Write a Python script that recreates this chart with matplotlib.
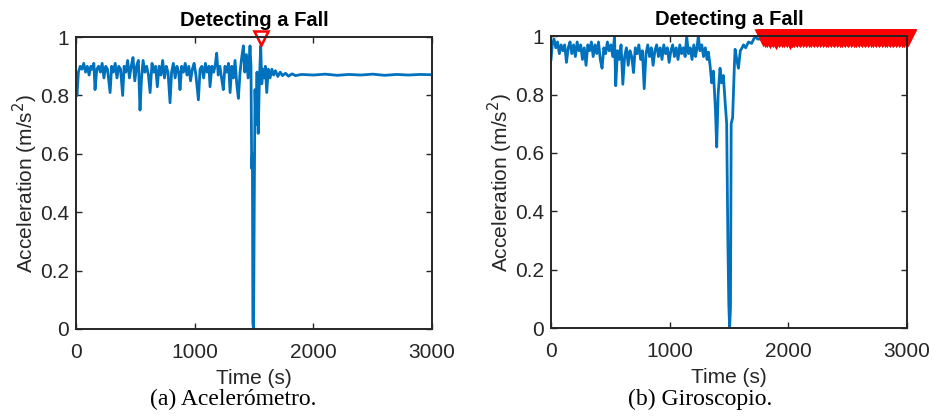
# Fall detection: accelerometer vs gyroscope magnitude with detected peaks
import numpy as np
import matplotlib
matplotlib.use('Agg')
import matplotlib.pyplot as plt

# Accelerometer signal (time in s, normalised magnitude)
acc_t = [0, 8, 20, 35, 50, 65, 80, 95, 110, 125, 135, 150, 160, 175, 190, 205, 220,
         235, 250, 265, 287, 300, 315, 330, 345, 360, 375, 393, 405, 420, 435, 450,
         465, 480, 495, 510, 525, 539, 552, 565, 580, 595, 610, 624, 640, 655, 670,
         685, 700, 715, 730, 745, 760, 775, 792, 805, 820, 835, 850, 865, 876, 890,
         905, 920, 935, 950, 965, 980, 995, 1010, 1031, 1045, 1060, 1075, 1090, 1105,
         1120, 1129, 1145, 1160, 1175, 1185, 1198, 1212, 1226, 1241, 1255, 1270, 1285,
         1298, 1312, 1326, 1340, 1354, 1368, 1382, 1396, 1410, 1422, 1436, 1450, 1466,
         1474, 1480, 1486, 1490, 1496, 1502, 1508, 1515, 1525, 1535, 1545, 1556, 1565,
         1575, 1585, 1595, 1607, 1620, 1635, 1650, 1665, 1680, 1700, 1720, 1740, 1765,
         1790, 1820, 1850, 1900, 2000, 2100, 2200, 2300, 2400, 2500, 2600, 2700, 2800,
         2900, 3000]
acc_v = [0.83, 0.80, 0.88, 0.90, 0.89, 0.91, 0.88, 0.90, 0.87, 0.90, 0.89, 0.91, 0.82,
         0.89, 0.90, 0.88, 0.91, 0.86, 0.90, 0.89, 0.81, 0.90, 0.88, 0.91, 0.86, 0.90,
         0.89, 0.80, 0.90, 0.88, 0.92, 0.86, 0.90, 0.93, 0.85, 0.90, 0.92, 0.75, 0.86,
         0.92, 0.88, 0.90, 0.87, 0.81, 0.91, 0.88, 0.90, 0.83, 0.90, 0.87, 0.92, 0.86,
         0.90, 0.88, 0.775, 0.88, 0.91, 0.86, 0.90, 0.88, 0.82, 0.90, 0.88, 0.91, 0.87,
         0.90, 0.85, 0.89, 0.91, 0.87, 0.785, 0.89, 0.90, 0.86, 0.91, 0.88, 0.90, 0.83,
         0.90, 0.88, 0.91, 0.945, 0.87, 0.90, 0.86, 0.82, 0.90, 0.88, 0.91, 0.81, 0.90,
         0.86, 0.92, 0.84, 0.79, 0.88, 0.93, 0.97, 0.88, 0.94, 0.86, 0.97, 0.90, 0.55,
         0.60, 0.02, 0.00, 0.45, 0.82, 0.70, 0.88, 0.67, 0.85, 0.97, 0.84, 0.89, 0.86,
         0.90, 0.81, 0.89, 0.86, 0.89, 0.87, 0.885, 0.865, 0.88, 0.868, 0.876, 0.866,
         0.874, 0.868, 0.872, 0.870, 0.873, 0.869, 0.872, 0.870, 0.873, 0.869, 0.872,
         0.870, 0.872, 0.871]
acc_peak_t = [1556]
acc_peak_v = [0.997]

# Gyroscope signal
gyr_t = [0, 10, 25, 40, 55, 70, 85, 100, 115, 130, 145, 160, 175, 190, 205, 220, 235,
         250, 265, 280, 295, 310, 325, 340, 355, 370, 385, 400, 415, 430, 445, 460,
         475, 490, 505, 520, 535, 545, 560, 575, 590, 605, 620, 635, 650, 665, 680,
         695, 710, 725, 740, 755, 770, 785, 800, 815, 830, 845, 860, 875, 890, 905,
         920, 935, 950, 965, 980, 995, 1010, 1025, 1040, 1055, 1070, 1085, 1100, 1115,
         1130, 1143, 1158, 1173, 1188, 1203, 1218, 1230, 1241, 1255, 1270, 1285, 1300,
         1315, 1326, 1340, 1354, 1368, 1385, 1396, 1408, 1424, 1438, 1452, 1466, 1480,
         1490, 1498, 1505, 1512, 1518, 1530, 1545, 1551, 1565, 1579, 1595, 1610, 1622,
         1640, 1664, 1690, 1720, 1740, 1800, 2000, 2200, 2400, 2600, 2800, 3000]
gyr_v = [0.92, 0.97, 0.99, 0.96, 0.98, 0.94, 0.97, 0.95, 0.97, 0.91, 0.96, 0.98, 0.94,
         0.97, 0.93, 0.98, 0.95, 0.97, 0.92, 0.96, 0.90, 0.97, 0.95, 0.98, 0.93, 0.97,
         0.94, 0.98, 0.92, 0.89, 0.96, 0.94, 0.98, 0.95, 0.97, 0.93, 1.00, 0.83, 0.95,
         0.92, 0.97, 0.835, 0.93, 0.96, 0.90, 0.95, 0.93, 0.875, 0.96, 0.94, 0.97, 0.92,
         0.95, 0.82, 0.94, 0.97, 0.93, 0.96, 0.90, 0.95, 0.97, 0.93, 0.96, 0.92, 0.97,
         0.94, 0.96, 0.91, 0.95, 0.97, 0.93, 0.96, 0.92, 0.97, 0.94, 0.96, 0.93, 1.00,
         0.94, 0.96, 0.92, 0.97, 0.93, 0.96, 1.00, 0.95, 0.97, 0.93, 0.96, 0.92, 0.945,
         0.90, 0.84, 0.88, 0.75, 0.62, 0.80, 0.89, 0.84, 0.865, 0.78, 0.70, 0.30, 0.08,
         0.00, 0.07, 0.70, 0.72, 0.90, 0.955, 0.92, 0.89, 0.95, 0.96, 0.97, 0.96, 0.98,
         0.975, 1.00, 0.99, 0.99, 0.99, 0.99, 0.99, 0.99, 0.99, 0.99]
gyr_peak_t = [1790, 1801, 1813, 1824, 1836, 1849, 1860, 1872, 1885, 1896, 1908, 1920,
              1931, 1944, 1956, 1967, 1979, 1992, 2003, 2015, 2027, 2038, 2051, 2063,
              2074, 2086, 2099, 2110, 2122, 2134, 2145, 2158, 2170, 2181, 2193, 2206,
              2217, 2229, 2241, 2252, 2265, 2277, 2288, 2300, 2313, 2324, 2336, 2348,
              2359, 2372, 2384, 2395, 2407, 2420, 2431, 2443, 2455, 2466, 2479, 2491,
              2502, 2514, 2527, 2538, 2550, 2562, 2573, 2586, 2598, 2609, 2621, 2634,
              2645, 2657, 2669, 2680, 2693, 2705, 2716, 2728, 2741, 2752, 2764, 2776,
              2787, 2800, 2812, 2823, 2835, 2848, 2859, 2871, 2883, 2894, 2907, 2919,
              2930, 2942, 2955, 2966, 2978, 2990, 3001, 3010]
gyr_peak_v = [0.996, 0.993, 0.998, 0.995, 0.997, 0.990, 0.998, 0.995, 0.993, 0.985,
              0.997, 0.995, 0.998, 0.993, 0.997, 0.995, 0.998, 0.993, 0.997, 0.986,
              0.995, 0.998, 0.993, 0.997, 0.995, 0.998, 0.993, 0.997, 0.995, 0.998,
              0.993, 0.997, 0.995, 0.998, 0.993, 0.997, 0.995, 0.998, 0.993, 0.997,
              0.995, 0.998, 0.993, 0.997, 0.995, 0.998, 0.993, 0.997, 0.995, 0.998,
              0.993, 0.997, 0.995, 0.998, 0.993, 0.997, 0.995, 0.998, 0.993, 0.997,
              0.995, 0.998, 0.993, 0.997, 0.995, 0.998, 0.993, 0.997, 0.995, 0.998,
              0.993, 0.997, 0.995, 0.998, 0.993, 0.997, 0.995, 0.998, 0.993, 0.997,
              0.995, 0.998, 0.993, 0.997, 0.995, 0.998, 0.993, 0.997, 0.995, 0.998,
              0.993, 0.997, 0.995, 0.998, 0.993, 0.997, 0.995, 0.998, 0.993, 0.997,
              0.995, 0.998, 0.997, 0.997]

x_ticks = [0, 1000, 2000, 3000]
y_ticks = [0, 0.2, 0.4, 0.6, 0.8, 1]
y_tick_labels = ['0', '0.2', '0.4', '0.6', '0.8', '1']
captions = ['(a) Acelerómetro.', '(b) Giroscopio.']
caption_x = [0.25, 0.75]

plt.rcParams['font.family'] = ['Liberation Sans', 'DejaVu Sans']

fig = plt.figure(figsize=(9.33, 4.2), dpi=100)
ax1 = fig.add_axes([0.0815, 0.2167, 0.3816, 0.695])
ax2 = fig.add_axes([0.5906, 0.2190, 0.3816, 0.695])

series = [(ax1, acc_t, acc_v, acc_peak_t, acc_peak_v),
          (ax2, gyr_t, gyr_v, gyr_peak_t, gyr_peak_v)]

for ax, t, v, pt, pv in series:
    ax.plot(t, v, color='#0072BD', linewidth=2.0)
    ax.plot(pt, pv, 'v', markersize=10, markerfacecolor='none',
            markeredgecolor='#FF0000', markeredgewidth=1.8, clip_on=False)
    ax.set_xlim(0, 3000)
    ax.set_ylim(0, 1)
    ax.set_xticks(x_ticks)
    ax.set_yticks(y_ticks)
    ax.set_yticklabels(y_tick_labels)
    ax.tick_params(direction='in', top=True, right=True, length=4, width=1,
                   labelsize=15, colors='#262626', pad=5)
    ax.tick_params(axis='x', pad=10)
    for s in ax.spines.values():
        s.set_linewidth(1.4)
        s.set_color('#262626')
    ax.set_title('Detecting a Fall', fontsize=14.5, fontweight='bold', pad=8)
    ax.set_xlabel('Time (s)', fontsize=15, color='#262626', labelpad=5)
    ax.set_ylabel('Acceleration (m/s$^2$)', fontsize=15, color='#262626', labelpad=0)

for cx, cap in zip(caption_x, captions):
    fig.text(cx, 0.048, cap, ha='center', va='center',
             fontsize=17, family='Liberation Serif')

fig.savefig('out.png', dpi=100)
